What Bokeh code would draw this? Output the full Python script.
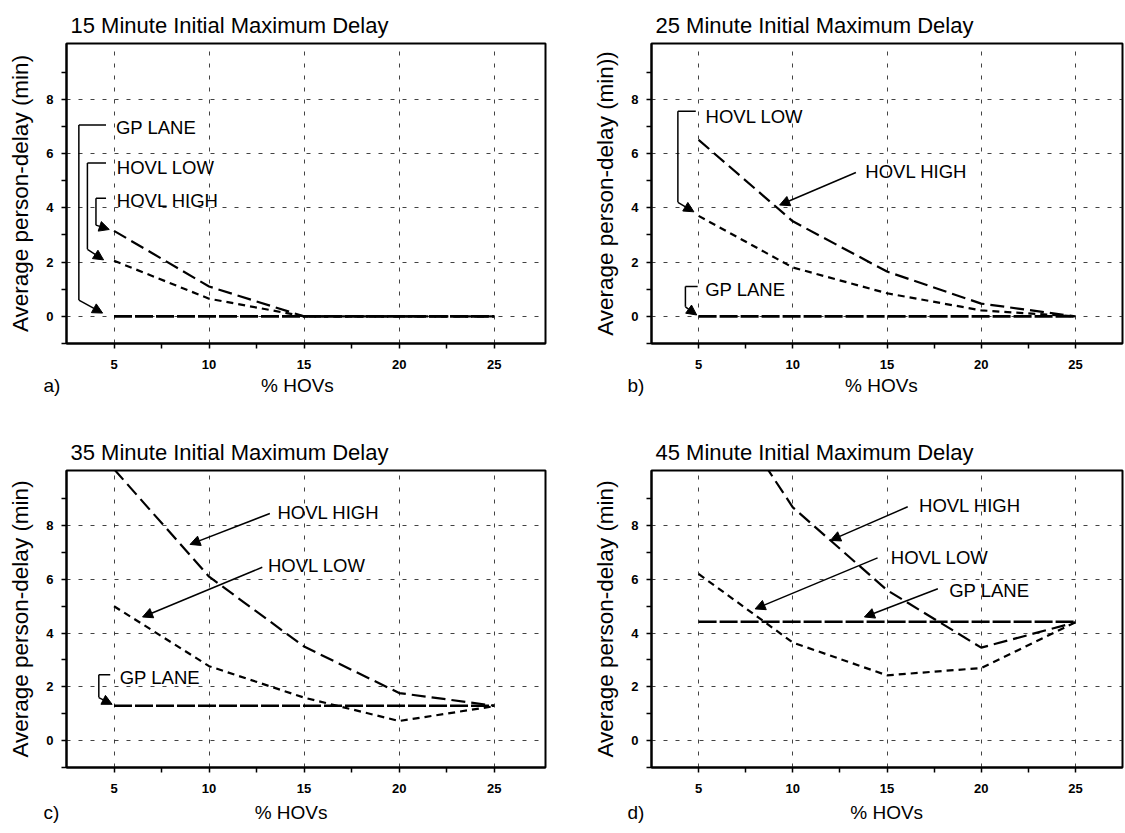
from bokeh.plotting import figure
from bokeh.layouts import column, row
from bokeh.models import FixedTicker, Label, Arrow, NormalHead, Range1d, Title
from bokeh.embed import file_html
from bokeh.resources import INLINE

# ---------------- data ----------------
hov_pct = [5, 10, 15, 20, 25]

# a) 15 minute initial maximum delay
a_gp = [0.0, 0.0, 0.0, 0.0, 0.0]
a_low = [2.05, 0.65, 0.0, 0.0, 0.0]
a_high = [3.15, 1.1, 0.0, 0.0, 0.0]

# b) 25 minute initial maximum delay
b_gp = [0.0, 0.0, 0.0, 0.0, 0.0]
b_low = [3.7, 1.8, 0.85, 0.22, 0.0]
b_high = [6.5, 3.5, 1.65, 0.47, 0.0]

# c) 35 minute initial maximum delay
c_gp = [1.3, 1.3, 1.3, 1.3, 1.3]
c_low = [5.0, 2.77, 1.6, 0.73, 1.28]
c_high = [10.1, 6.1, 3.5, 1.77, 1.3]

# d) 45 minute initial maximum delay
d_gp = [4.42, 4.42, 4.42, 4.42, 4.42]
d_low = [6.2, 3.65, 2.43, 2.7, 4.4]
d_high = [14.0, 8.68, 5.6, 3.46, 4.4]

titles = ["15 Minute Initial Maximum Delay", "25 Minute Initial Maximum Delay",
          "35 Minute Initial Maximum Delay", "45 Minute Initial Maximum Delay"]
letters = ["a)", "b)", "c)", "d)"]
xlabel = "% HOVs"
ylabels = ["Average person-delay (min)", "Average person-delay (min))",
           "Average person-delay (min)", "Average person-delay (min)"]
x_ticks = [5, 10, 15, 20, 25]
x_minor = [7.5, 12.5, 17.5, 22.5]
y_ticks = [0, 2, 4, 6, 8]
y_minor = [-1, 1, 3, 5, 7, 9]

FONT = "Liberation Sans"
NBSP = "\u00a0"


def make_panel(title, letter, ylabel, gp, low, high, left_col, top_row, gap, loff):
    if left_col:
        w, bl, br, xend = 590, 66, 45, 27.7
    else:
        w, bl, br, xend = 535, 57, 3, 27.5
    if top_row:
        h, bt, bb, sto = 408, 43, 65, 7
    else:
        h, bt, bb, sto = 425, 62, 66, 13
    p = figure(width=w, height=h, output_backend="svg", toolbar_location=None,
               x_range=Range1d(2.5, xend), y_range=Range1d(-1.0, 10.05),
               min_border_left=bl, min_border_right=br,
               min_border_top=bt, min_border_bottom=bb,
               background_fill_color="white", border_fill_color="white")
    p.title.text = title
    p.title.text_font = FONT
    p.title.text_font_size = "22px"
    p.title.text_font_style = "normal"
    p.title.text_color = "black"
    p.title.align = "left"
    p.title.offset = 4
    p.title.standoff = 12
    p.outline_line_color = "black"
    p.outline_line_width = 2
    p.outline_line_alpha = 1.0

    p.xaxis.ticker = FixedTicker(ticks=x_ticks, minor_ticks=x_minor)
    p.yaxis.ticker = FixedTicker(ticks=y_ticks, minor_ticks=y_minor)
    for ax in (p.xaxis[0], p.yaxis[0]):
        ax.major_tick_in = 0
        ax.major_tick_out = 5
        ax.minor_tick_in = 0
        ax.minor_tick_out = 5
        ax.major_tick_line_color = "black"
        ax.minor_tick_line_color = "black"
        ax.major_tick_line_width = 1.5
        ax.minor_tick_line_width = 1.5
        ax.axis_line_color = "black"
        ax.axis_line_width = 2
        ax.major_label_text_font = FONT
        ax.major_label_text_font_size = "13px"
        ax.major_label_text_font_style = "bold"
        ax.major_label_text_color = "black"
        ax.axis_label_text_font = FONT
        ax.axis_label_text_font_style = "normal"
        ax.axis_label_text_color = "black"
    p.xaxis.major_label_standoff = 11
    p.yaxis.axis_label = ylabel
    p.yaxis.axis_label_text_font_size = "22.5px"
    p.yaxis.major_label_standoff = 8
    p.yaxis.axis_label_standoff = 10

    # panel letter and x-axis title share one line below the axis
    bottom = Title(text=letter + NBSP * gap + xlabel, align="left", offset=loff,
                   standoff=sto, vertical_align="top", text_font=FONT,
                   text_font_size="19px", text_font_style="normal", text_color="black")
    p.add_layout(bottom, "below")

    for g in (p.xgrid[0], p.ygrid[0]):
        g.grid_line_color = "#222222"
        g.grid_line_dash = "4 8"
        g.grid_line_width = 1
        g.grid_line_alpha = 0.85

    p.line(hov_pct, gp, line_color="black", line_width=2.6, line_dash="18 3")
    p.line(hov_pct, low, line_color="black", line_width=2.2, line_dash="7 5")
    p.line(hov_pct, high, line_color="black", line_width=2.2, line_dash="14 6")
    return p


def label(p, x, y, text):
    p.add_layout(Label(x=x, y=y, text=text, text_font=FONT, text_font_size="18.5px",
                       text_baseline="middle", text_color="black"))


def seg(p, x0, y0, x1, y1):
    p.add_layout(Arrow(end=None, x_start=x0, y_start=y0, x_end=x1, y_end=y1,
                       line_color="black", line_width=1.5))


def arrow(p, x0, y0, x1, y1):
    p.add_layout(Arrow(end=NormalHead(size=10, fill_color="black", line_color="black", line_width=1),
                       x_start=x0, y_start=y0, x_end=x1, y_end=y1,
                       line_color="black", line_width=1.5))


pa = make_panel(titles[0], letters[0], ylabels[0], a_gp, a_low, a_high, True, True, 38, -23)
label(pa, 5.1, 6.94, "GP LANE")
label(pa, 5.15, 5.5, "HOVL LOW")
label(pa, 5.15, 4.28, "HOVL HIGH")
seg(pa, 4.58, 7.05, 3.15, 7.05)
seg(pa, 3.15, 7.05, 3.15, 0.6)
arrow(pa, 3.15, 0.6, 4.4, 0.12)
seg(pa, 4.58, 5.65, 3.6, 5.65)
seg(pa, 3.6, 5.65, 3.6, 2.47)
arrow(pa, 3.6, 2.47, 4.45, 2.08)
seg(pa, 4.58, 4.35, 4.05, 4.35)
seg(pa, 4.05, 4.35, 4.05, 3.36)
arrow(pa, 4.05, 3.36, 4.75, 3.2)

pb = make_panel(titles[1], letters[1], ylabels[1], b_gp, b_low, b_high, False, True, 38, -24)
label(pb, 5.37, 7.35, "HOVL LOW")
label(pb, 13.85, 5.35, "HOVL HIGH")
label(pb, 5.35, 1.0, "GP LANE")
seg(pb, 4.85, 7.55, 3.9, 7.55)
seg(pb, 3.9, 7.55, 3.9, 4.2)
arrow(pb, 3.9, 4.2, 4.75, 3.85)
arrow(pb, 13.35, 5.3, 9.3, 4.1)
seg(pb, 4.95, 1.1, 4.3, 1.1)
seg(pb, 4.3, 1.1, 4.3, 0.35)
arrow(pb, 4.3, 0.35, 4.9, 0.05)

pc = make_panel(titles[2], letters[2], ylabels[2], c_gp, c_low, c_high, True, False, 37, -23)
label(pc, 13.6, 8.5, "HOVL HIGH")
label(pc, 13.1, 6.5, "HOVL LOW")
label(pc, 5.3, 2.35, "GP LANE")
arrow(pc, 13.2, 8.45, 9.0, 7.3)
arrow(pc, 12.8, 6.45, 6.5, 4.6)
seg(pc, 4.8, 2.45, 4.2, 2.45)
seg(pc, 4.2, 2.45, 4.2, 1.6)
arrow(pc, 4.2, 1.6, 4.9, 1.35)

pd_ = make_panel(titles[3], letters[3], ylabels[3], d_gp, d_low, d_high, False, False, 39, -24)
label(pd_, 16.7, 8.75, "HOVL HIGH")
label(pd_, 15.2, 6.8, "HOVL LOW")
label(pd_, 18.3, 5.6, "GP LANE")
arrow(pd_, 16.1, 8.7, 12.0, 7.45)
arrow(pd_, 14.5, 6.8, 8.0, 4.9)
arrow(pd_, 17.7, 5.65, 13.8, 4.6)

layout = column(row(pa, pb), row(pc, pd_))
open("out.html", "w").write(file_html(layout, INLINE))
